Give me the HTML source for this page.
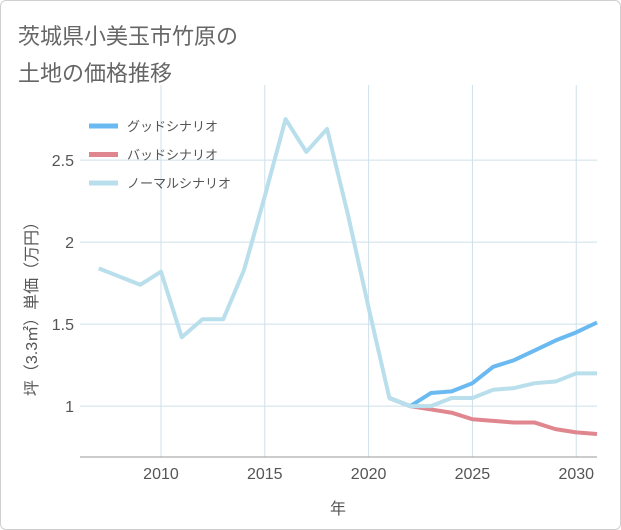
<!DOCTYPE html>
<html><head><meta charset="utf-8"><style>
html,body{margin:0;padding:0;background:#fff;}
#card{position:relative;width:619px;height:528px;border:1px solid #d0d0d0;border-radius:6px;background:#fff;overflow:hidden;}
.t{position:absolute;left:17px;font-family:"Liberation Sans","Noto Sans CJK JP",sans-serif;font-size:22px;color:#666;}
svg text{font-family:"Liberation Sans","Noto Sans CJK JP",sans-serif;}
</style></head><body>
<div id="card">
<div class="t" style="top:18px">茨城県小美玉市竹原の</div>
<div class="t" style="top:55px">土地の価格推移</div>
<svg id="chart" width="621" height="530" style="position:absolute;left:-1px;top:-1px"></svg>
</div>
<script>
const years=[2007,2008,2009,2010,2011,2012,2013,2014,2015,2016,2017,2018,2019,2020,2021,2022,2023,2024,2025,2026,2027,2028,2029,2030,2031];
const normal=[1.84,1.79,1.74,1.82,1.42,1.53,1.53,1.83,2.28,2.75,2.55,2.69,2.17,1.6,1.05,1.0,1.0,1.05,1.05,1.1,1.11,1.14,1.15,1.2,1.2];
const goodYears=[2021,2022,2023,2024,2025,2026,2027,2028,2029,2030,2031];
const good=[1.05,1.0,1.08,1.09,1.14,1.24,1.28,1.34,1.40,1.45,1.51];
const bad=[1.05,1.0,0.98,0.96,0.92,0.91,0.90,0.90,0.86,0.84,0.83];
const xTicks=[2010,2015,2020,2025,2030];
const yTicks=[1,1.5,2,2.5];
const yTickLabels=["1","1.5","2","2.5"];
const NS='http://www.w3.org/2000/svg';
const svg=document.getElementById('chart');
const X0=80,X1=597,Y0=85,Y1=457;
const xMin=2006.1,xMax=2031,yMin=0.69,yMax=2.958;
const xs=v=>X0+(v-xMin)/(xMax-xMin)*(X1-X0);
const ys=v=>Y1-(v-yMin)/(yMax-yMin)*(Y1-Y0);
function mk(tag,attrs,parent){const e=document.createElementNS(NS,tag);for(const k in attrs)e.setAttribute(k,attrs[k]);(parent||svg).appendChild(e);return e;}
xTicks.forEach(t=>{
  const l=mk('line',{x1:xs(t),x2:xs(t),y1:Y0,y2:Y1,stroke:'#cfe0ea','stroke-width':1});
  
  
  const tx=mk('text',{x:xs(t),y:Y1+22,'text-anchor':'middle','font-size':16,fill:'#555'});
  tx.textContent=t;
  
  
});
yTicks.forEach((t,i)=>{
  const l=mk('line',{x1:X0,x2:X1,y1:ys(t),y2:ys(t),stroke:'#cfe0ea','stroke-width':1});
  
  
  const tx=mk('text',{x:X0-6,y:ys(t)+6,'text-anchor':'end','font-size':16,fill:'#555'});
  tx.textContent=yTickLabels[i];
  
  
});
const ax=mk('line',{x1:X0,x2:X1,y1:Y1,y2:Y1,stroke:'#999','stroke-width':1});


function series(xv,yv,color,name){
  const p=mk('polyline',{points:xv.map((x,i)=>xs(x)+','+ys(yv[i])).join(' '),fill:'none',stroke:color,'stroke-width':4,'stroke-linejoin':'round'});
  
  
}
series(goodYears,bad,'#e0868e','bad-scenario-line');
series(goodYears,good,'#6ab9f0','good-scenario-line');
series(years,normal,'#b9dfec','normal-scenario-line');
const legend=[['グッドシナリオ','#6ab9f0'],['バッドシナリオ','#e0868e'],['ノーマルシナリオ','#b9dfec']];
legend.forEach((e,i)=>{
  const y=126+i*28.5;
  const l=mk('line',{x1:89,x2:118,y1:y,y2:y,stroke:e[1],'stroke-width':5});
  
  
  const tx=mk('text',{x:127,y:y+5,'font-size':13,fill:'#555'});
  tx.textContent=e[0];
  
  
});
const xt=mk('text',{x:338,y:514,'text-anchor':'middle','font-size':16,fill:'#555'});
xt.textContent='年';


const yt=mk('text',{x:0,y:0,'text-anchor':'middle','font-size':16,fill:'#555',transform:'translate(37,305) rotate(-90)'});
yt.textContent='坪（3.3㎡）単価（万円）';


</script>
</body></html>
